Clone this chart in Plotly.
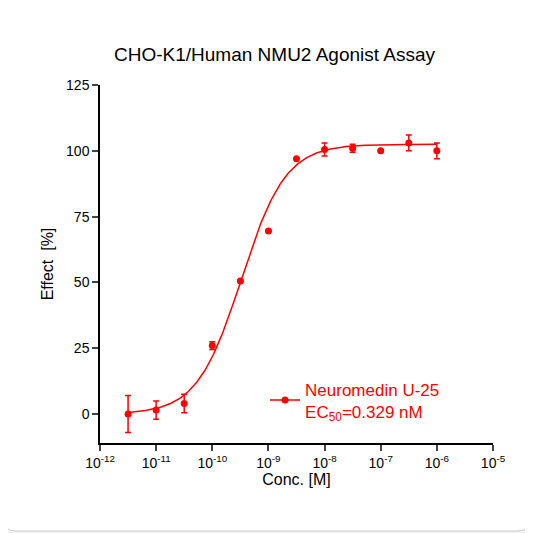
import numpy as np
import plotly.graph_objects as go

conc = [10**-11.5, 1e-11, 10**-10.5, 1e-10, 10**-9.5, 1e-9, 10**-8.5, 1e-8, 10**-7.5, 1e-7, 10**-6.5, 1e-6]
effect = [0, 1.5, 4, 26, 50.5, 69.5, 97, 100.5, 101, 100, 103, 100]
err = [7, 3.5, 3.5, 1.5, 0, 0, 0, 2.5, 1.5, 0, 3, 3]
ec50 = 0.329e-9
top, bottom, hill = 102.5, 0.0, 1.1
xticks = [10.0**e for e in range(-12, -4)]
xticklabels = [f"10<sup>{e}</sup>" for e in range(-12, -4)]

xc = np.logspace(-11.5, -6, 300)
yc = bottom + (top - bottom) / (1 + (ec50 / xc) ** hill)

red = "#ff0000"
label = "Neuromedin U-25<br>EC<sub>50</sub>=0.329 nM"
fig = go.Figure()
fig.add_trace(go.Scatter(x=xc, y=yc, mode="lines", line=dict(color=red, width=1.5), showlegend=False, hoverinfo="skip"))
fig.add_trace(go.Scatter(x=conc, y=effect, mode="markers", marker=dict(color=red, size=7),
                         error_y=dict(type="data", array=err, color=red, thickness=1.5, width=3),
                         showlegend=False))
fig.add_trace(go.Scatter(x=[None], y=[None], mode="lines+markers", line=dict(color=red, width=1.5),
                         marker=dict(color=red, size=7), name=label))

fig.add_shape(type="line", x0=-12, x1=-6, y0=0, y1=0, xref="x", yref="y",
              line=dict(color="black", width=1, dash="dot"))

ML, MT, MR, MB = 92, 77, 48, 98
W = 533.0 - ML - MR; H = 533.0 - MT - MB
def px(x): return (x - ML) / W
def py(y): return 1 - (y - MT) / H
r = 14
x0, x1, y0, y1 = -6, 523, -6, 523
path = (f"M {px(x0+r)} {py(y0)} L {px(x1-r)} {py(y0)} Q {px(x1)} {py(y0)} {px(x1)} {py(y0+r)} "
        f"L {px(x1)} {py(y1-r)} Q {px(x1)} {py(y1)} {px(x1-r)} {py(y1)} "
        f"L {px(x0+r)} {py(y1)} Q {px(x0)} {py(y1)} {px(x0)} {py(y1-r)} "
        f"L {px(x0)} {py(y0+r)} Q {px(x0)} {py(y0)} {px(x0+r)} {py(y0)} Z")
fig.add_shape(type="path", path=path, xref="paper", yref="paper", layer="below",
              fillcolor="white", line=dict(color="#cccccc", width=1))

fig.update_layout(
    width=533, height=533, margin=dict(l=ML, r=MR, t=MT, b=MB),
    paper_bgcolor="#f2f2f2", plot_bgcolor="rgba(0,0,0,0)",
    font=dict(family="Liberation Sans, Arial", color="black", size=14),
    title=dict(text="CHO-K1/Human NMU2 Agonist Assay", x=0.5, xanchor="center", y=0.925, font=dict(size=19)),
    legend=dict(x=0.42, y=0.2, xanchor="left", yanchor="top", font=dict(size=17, color=red), bgcolor="rgba(0,0,0,0)"),
)
fig.update_xaxes(type="log", range=[-12, -5], tickvals=xticks, ticktext=xticklabels,
                 showgrid=False, zeroline=False, showline=True, linecolor="black", linewidth=1.5,
                 ticks="outside", ticklen=6, tickwidth=1.5,
                 title=dict(text="Conc. [M]", font=dict(size=16), standoff=2))
fig.update_yaxes(range=[-11, 125], tickvals=[0, 25, 50, 75, 100, 125],
                 showgrid=False, zeroline=False, showline=True, linecolor="black", linewidth=1.5,
                 ticks="outside", ticklen=6, tickwidth=1.5,
                 title=dict(text="Effect  [%]", font=dict(size=16), standoff=8))
fig.write_html("out.html")
